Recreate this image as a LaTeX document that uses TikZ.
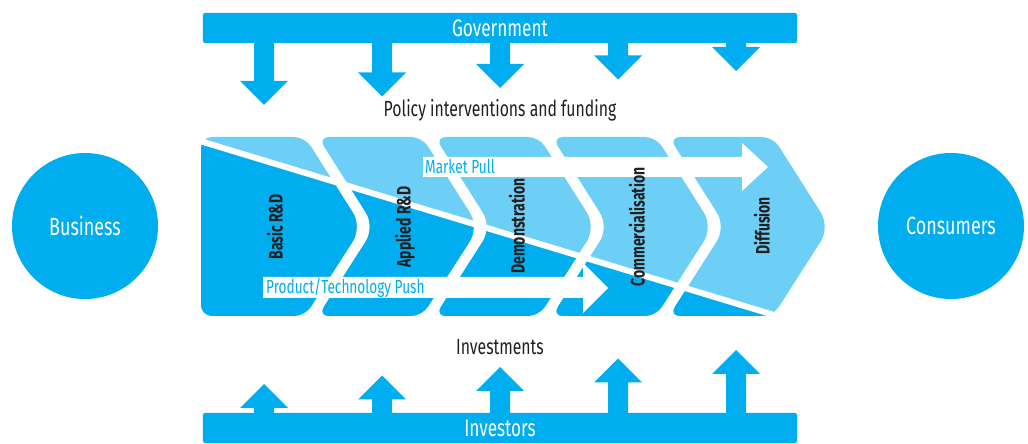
\documentclass[tikz,border=0pt]{standalone}
\usepackage{fontspec}
\setmainfont{Fira Sans}[FakeStretch=0.72]
\usetikzlibrary{calc}
\definecolor{dblue}{HTML}{00AEEF}
\definecolor{lblue}{HTML}{6DCFF6}
\definecolor{ink}{HTML}{231F20}
\tikzset{bar/.style = {fill=dblue, rounded corners=2pt, minimum width=594bp, minimum height=30bp, inner sep=0pt,
                       text=white, font=\fontsize{24}{24}\selectfont},
           ci/.style = {circle, fill=dblue, minimum size=146bp, inner sep=0pt, text=white, font=\fontsize{25}{25}\selectfont},
           ph/.style = {rotate=90, inner sep=0pt, text=ink, font=\fontsize{19.5}{19.5}\selectfont\bfseries},
           bk/.style = {inner sep=0pt, text=ink, font=\fontsize{22}{22}\selectfont},
           bl/.style = {anchor=west, inner sep=0pt, text=dblue, font=\fontsize{19}{19}\selectfont},
           ch/.style = {rounded corners=11pt},
           pt/.style = {rounded corners=17pt}}

\begin{document}
\begin{tikzpicture}[x=1bp, y=-1bp]
    \useasboundingbox (0,0) rectangle (1028,444);
    % stages
    \foreach \k/\n in {0/0,1/57,2/57,3/57,4/57}
      \fill[lblue, ch] (253+117*\k,137) -- (305+117*\k,137) [pt] -- (362+117*\k,227) [ch] -- (305+117*\k,316)
            -- (201+117*\k,316) [pt] -- (201+\n+117*\k,227) [ch] -- (201+117*\k,137) -- cycle;
    \begin{scope}
      \clip (190,138) -- (840,335) -- (190,335) -- cycle;
      \foreach \k/\n in {0/0,1/57,2/57,3/57,4/57}
        \fill[dblue, ch] (253+117*\k,137) -- (305+117*\k,137) [pt] -- (362+117*\k,227) [ch] -- (305+117*\k,316)
              -- (201+117*\k,316) [pt] -- (201+\n+117*\k,227) [ch] -- (201+117*\k,137) -- cycle;
    \end{scope}
    \draw[white, line width=6bp] (190,138) -- (840,335);
    % white arrows
    \fill[white] (423,157) -- (742,157) -- (742,143) -- (768,167) -- (742,191) -- (742,177) -- (423,177) -- cycle;
    \fill[white] (263,277) -- (583,277) -- (583,263) -- (608,288) -- (583,313) -- (583,298) -- (263,298) -- cycle;
    \node[bl] (mp) at (425,167) {Market Pull};
    \node[bl] (ptp) at (266,288) {Product/Technology Push};
    \node[ph] (brd) at (275,227) {Basic R\&D};
    \node[ph] (ard) at (405,227) {Applied R\&D};
    \node[ph] (dem) at (517,226) {Demonstration};
    \node[ph] (com) at (637,227) {Commercialisation};
    \node[ph] (dif) at (762,226) {Diffusion};
    % government and investors
    \foreach \i [evaluate=\i as \cx using 264+118*\i, evaluate=\i as \tp using 105-8.5*\i] in {0,...,4}
      \fill[dblue] (\cx-10,40) -- (\cx-10,\tp-24) -- (\cx-24,\tp-24) -- (\cx,\tp) -- (\cx+24,\tp-24)
            -- (\cx+10,\tp-24) -- (\cx+10,40) -- cycle;
    \foreach \i [evaluate=\i as \cx using 264+118*\i, evaluate=\i as \tp using 384-8.5*\i] in {0,...,4}
      \fill[dblue] (\cx-10,415) -- (\cx-10,\tp+24) -- (\cx-24,\tp+24) -- (\cx,\tp) -- (\cx+24,\tp+24)
            -- (\cx+10,\tp+24) -- (\cx+10,415) -- cycle;
    \node[bar] (gov) at (500,28) {Government};
    \node[bar] (inv) at (500,428) {Investors};
    \node[bk] (pol) at (500,110) {Policy interventions and funding};
    \node[bk] (inm) at (500,347) {Investments};
    % actors
    \node[ci] (bus) at (85,226) {Business};
    \node[ci] (con) at (951,226) {Consumers};
\end{tikzpicture}
\end{document}
